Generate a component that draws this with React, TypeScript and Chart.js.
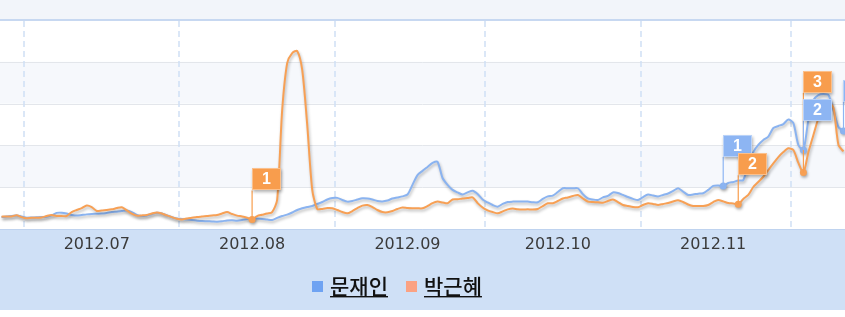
import React, { useEffect, useRef } from 'react';
import { Chart, registerables } from 'chart.js';

Chart.register(...registerables);

// Daily search-interest index, 2012-06-26 .. 2012-12-11
const seriesNames = ['문재인', '박근혜'];
const firstDate = '2012-06-26';
const originDate = '2012-07-01';

const moonValues = [
  5.7, 6.0, 6.2, 6.5, 6.0, 5.4, 5.5, 5.6, 5.7, 5.9,
  6.5, 7.7, 7.8, 7.4, 6.7, 6.4, 6.7, 7.0, 7.2, 7.3,
  7.4, 7.7, 8.1, 8.3, 8.6, 8.9, 8.1, 6.7, 6.2, 6.5,
  7.2, 7.8, 7.4, 6.5, 5.7, 5.0, 4.8, 4.5, 4.3, 4.0,
  3.8, 3.7, 3.6, 3.5, 3.7, 4.1, 4.2, 4.0, 4.3, 4.8,
  5.1, 5.0, 4.8, 4.5, 4.3, 5.3, 6.2, 6.9, 7.9, 9.1,
  9.9, 10.5, 11.0, 12.0, 12.9, 14.1, 14.8, 14.9, 13.9, 13.1,
  13.4, 14.1, 14.7, 14.6, 14.1, 13.4, 13.2, 13.6, 14.6, 15.1,
  15.6, 16.5, 21.1, 25.8, 27.8, 29.7, 31.6, 32.1, 24.4, 21.1,
  18.7, 17.5, 16.5, 17.5, 18.3, 16.7, 14.1, 12.7, 11.5, 10.7,
  12.0, 12.9, 13.1, 13.1, 13.1, 13.1, 12.8, 12.8, 14.4, 15.6,
  16.0, 17.7, 19.5, 19.5, 19.5, 19.5, 16.7, 14.6, 14.1, 13.9,
  15.1, 15.8, 17.5, 17.2, 16.3, 15.3, 14.4, 13.9, 15.3, 16.5,
  16.0, 15.6, 16.3, 17.0, 18.2, 19.5, 17.9, 16.3, 16.5, 16.9,
  17.1, 18.7, 20.6, 20.8, 20.6, 22.0, 22.5, 23.2, 23.4, 30.6,
  36.8, 40.2, 42.6, 44.2, 48.3, 49.3, 50.2, 52.4, 50.7, 40.2,
  37.8, 52.2, 61.7, 64.1, 64.6, 64.1, 56.9, 48.8, 46.9,
];

const parkValues = [
  5.9, 6.0, 6.0, 6.6, 5.7, 5.1, 5.4, 5.4, 5.5, 6.2,
  6.7, 6.2, 6.2, 6.2, 8.1, 9.1, 10.0, 11.2, 10.5, 8.6,
  8.9, 9.1, 9.4, 10.0, 10.4, 8.9, 7.4, 6.4, 6.5, 6.7,
  7.4, 7.9, 7.4, 6.5, 5.7, 4.9, 4.6, 5.0, 5.4, 5.7,
  6.0, 6.2, 6.5, 6.7, 7.4, 8.1, 7.2, 6.4, 6.0, 5.4,
  4.6, 6.2, 6.8, 7.4, 8.1, 13.9, 56.9, 79.4, 84.2, 85.2,
  76.1, 49.8, 18.7, 9.6, 9.6, 10.0, 9.9, 9.1, 8.1, 7.5,
  8.6, 10.0, 11.2, 11.5, 10.5, 9.1, 8.1, 8.0, 8.6, 9.6,
  10.3, 10.0, 9.9, 9.9, 9.9, 11.0, 12.4, 13.1, 12.7, 12.3,
  14.1, 14.2, 14.6, 14.8, 15.1, 12.4, 10.3, 8.9, 8.1, 7.5,
  8.4, 9.4, 9.8, 9.4, 9.3, 9.4, 9.3, 9.6, 11.0, 12.3,
  12.3, 13.4, 14.6, 15.1, 15.8, 16.3, 14.6, 13.1, 12.9, 12.8,
  12.6, 13.4, 14.1, 12.9, 11.5, 11.0, 10.5, 10.4, 11.5, 12.3,
  12.0, 11.5, 12.0, 12.4, 13.2, 13.7, 12.9, 11.7, 11.0, 11.0,
  11.0, 11.5, 12.9, 13.9, 13.2, 12.4, 12.2, 11.8, 14.4, 16.3,
  20.1, 22.5, 25.0, 28.2, 31.4, 34.4, 36.8, 38.6, 37.8, 31.6,
  27.0, 36.8, 45.0, 53.1, 59.8, 60.9, 57.9, 40.2, 37.1,
];

const tickLabels = ['2012.07', '2012.08', '2012.09', '2012.10', '2012.11'];
const tickDates = ['2012-07-15', '2012-08-15', '2012-09-15', '2012-10-15', '2012-11-15'];
const monthStartDates = ['2012-07-01', '2012-08-01', '2012-09-01', '2012-10-01', '2012-11-01', '2012-12-01'];
const viewStartDate = '2012-06-25';
const viewEndDate = '2012-12-11';

const moonFlagDates = ['2012-11-17', '2012-12-03', '2012-12-11'];
const moonFlagLabels = ['1', '2', '3'];
const parkFlagDates = ['2012-08-15', '2012-11-20', '2012-12-03'];
const parkFlagLabels = ['1', '2', '3'];

const gridValues = [0, 20, 40, 60, 80, 100];

const DAY = 86400000;
const dayOf = (s: string) => (Date.parse(s + 'T00:00:00Z') - Date.parse(originDate + 'T00:00:00Z')) / DAY;

const BLUE = '#8ab3f0';
const ORANGE = '#f7a055';
const BLUE_BOX = '#8db5f3';
const ORANGE_BOX = '#f89d4d';
const LEGEND_BLUE = '#6fa3f2';
const LEGEND_ORANGE = '#fba283';

export default function App() {
  const ref = useRef<HTMLCanvasElement | null>(null);

  useEffect(() => {
    document.body.style.margin = '0';
    const canvas = ref.current;
    if (!canvas) return;

    const start = dayOf(firstDate);
    const moonData = moonValues.map((v, i) => ({ x: start + i, y: v }));
    const parkData = parkValues.map((v, i) => ({ x: start + i, y: v }));
    const moonFlagIdx = moonFlagDates.map((d) => dayOf(d) - start);
    const parkFlagIdx = parkFlagDates.map((d) => dayOf(d) - start);

    const bgPlugin = {
      id: 'bg',
      beforeDraw(chart: any) {
        const { ctx, chartArea: a, width, height } = chart;
        const ys = chart.scales.y;
        const xs = chart.scales.x;
        ctx.save();
        ctx.fillStyle = '#ffffff';
        ctx.fillRect(0, 0, width, height);
        ctx.fillStyle = '#f2f5fa';
        ctx.fillRect(0, 0, width, a.top);
        for (let i = 0; i < gridValues.length - 1; i++) {
          if (i % 2 === 1) {
            const y1 = ys.getPixelForValue(gridValues[i + 1]);
            const y0 = ys.getPixelForValue(gridValues[i]);
            ctx.fillStyle = '#f6f8fc';
            ctx.fillRect(0, y1, width, y0 - y1);
          }
        }
        ctx.strokeStyle = '#e3e6eb';
        ctx.lineWidth = 1;
        gridValues.slice(1, -1).forEach((v) => {
          const y = Math.round(ys.getPixelForValue(v)) + 0.5;
          ctx.beginPath();
          ctx.moveTo(0, y);
          ctx.lineTo(width, y);
          ctx.stroke();
        });
        ctx.strokeStyle = '#c7d8f1';
        ctx.lineWidth = 2;
        ctx.beginPath();
        ctx.moveTo(0, a.top);
        ctx.lineTo(width, a.top);
        ctx.stroke();
        ctx.strokeStyle = '#cfdff5';
        ctx.lineWidth = 1.5;
        ctx.setLineDash([6, 4]);
        monthStartDates.forEach((d) => {
          const x = Math.round(xs.getPixelForValue(dayOf(d) - 0.5));
          ctx.beginPath();
          ctx.moveTo(x, a.top + 1);
          ctx.lineTo(x, a.bottom);
          ctx.stroke();
        });
        ctx.setLineDash([]);
        ctx.fillStyle = '#cfe0f6';
        ctx.fillRect(0, a.bottom, width, 81);
        ctx.strokeStyle = '#bfd3ef';
        ctx.lineWidth = 1;
        ctx.beginPath();
        ctx.moveTo(0, a.bottom + 0.5);
        ctx.lineTo(width, a.bottom + 0.5);
        ctx.stroke();
        ctx.restore();
      },
      beforeDatasetDraw(chart: any) {
        const ctx = chart.ctx;
        ctx.save();
        ctx.shadowColor = 'rgba(0,0,0,0.28)';
        ctx.shadowBlur = 3;
        ctx.shadowOffsetX = 1;
        ctx.shadowOffsetY = 2;
      },
      afterDatasetDraw(chart: any) {
        chart.ctx.restore();
      },
      afterDatasetsDraw(chart: any) {
        const ctx = chart.ctx;
        const W = 29;
        const H = 22;
        const placed: any[] = [];
        const make = (dsIndex: number, idxs: number[], labels: string[], color: string, light: string, order: number) => {
          const meta = chart.getDatasetMeta(dsIndex);
          idxs.forEach((ix, k) => {
            const el = meta.data[ix];
            if (!el) return;
            let bottom = el.y - 29;
            placed.forEach((p) => {
              if (p.ix === ix) bottom = Math.min(bottom, p.top - 6);
            });
            placed.push({ ix, x: el.x, py: el.y, top: bottom - H, label: labels[k], color, light, order });
          });
        };
        make(0, moonFlagIdx, moonFlagLabels, BLUE_BOX, '#b9d2f8', 1);
        make(1, parkFlagIdx, parkFlagLabels, ORANGE_BOX, '#fbc08c', 0);
        placed.sort((p, q) => p.ix - q.ix || p.order - q.order);
        placed.forEach((f) => {
          ctx.save();
          ctx.strokeStyle = f.color;
          ctx.lineWidth = 1.2;
          ctx.beginPath();
          ctx.moveTo(f.x, f.top + H);
          ctx.lineTo(f.x, f.py);
          ctx.stroke();
          ctx.shadowColor = 'rgba(0,0,0,0.3)';
          ctx.shadowBlur = 3;
          ctx.shadowOffsetX = 1;
          ctx.shadowOffsetY = 2;
          ctx.fillStyle = f.color;
          const left = Math.round(f.x - 0.5);
          const top = Math.round(f.top);
          ctx.fillRect(left, top, W, H);
          ctx.shadowColor = 'transparent';
          ctx.strokeStyle = f.light;
          ctx.lineWidth = 1;
          ctx.strokeRect(left + 0.5, top + 0.5, W - 1, H - 1);
          ctx.fillStyle = '#ffffff';
          ctx.font = 'bold 16px "Liberation Sans", Arial, sans-serif';
          ctx.textAlign = 'center';
          ctx.textBaseline = 'middle';
          ctx.fillText(f.label, left + W / 2, top + H / 2 + 1);
          ctx.restore();
        });
      },
      afterDraw(chart: any) {
        const ctx = chart.ctx;
        ctx.save();
        ctx.font = '500 21px "Noto Sans CJK KR", sans-serif';
        ctx.textBaseline = 'middle';
        const colors = [LEGEND_BLUE, LEGEND_ORANGE];
        const box = 11;
        const gapBox = 7;
        const gapItem = 18;
        const widths = seriesNames.map((n) => ctx.measureText(n).width);
        const total = widths.reduce((s, w) => s + box + gapBox + w, 0) + gapItem * (seriesNames.length - 1);
        const centerX = 397;
        const cy = 286;
        let x = centerX - total / 2;
        seriesNames.forEach((n, i) => {
          ctx.fillStyle = colors[i];
          ctx.fillRect(Math.round(x), Math.round(cy - box / 2), box, box);
          x += box + gapBox;
          ctx.fillStyle = '#111111';
          ctx.fillText(n, x, cy);
          ctx.fillRect(x, cy + 10, widths[i], 1.4);
          x += widths[i] + gapItem;
        });
        ctx.restore();
      },
    };

    const chart = new Chart(canvas, {
      type: 'line',
      data: {
        datasets: [
          {
            label: seriesNames[0],
            data: moonData,
            borderColor: BLUE,
            backgroundColor: BLUE,
            borderWidth: 2,
            tension: 0.25,
            pointRadius: (c: any) => (moonFlagIdx.includes(c.dataIndex) ? 3.5 : 0),
            pointBorderWidth: 0,
            order: 1,
          },
          {
            label: seriesNames[1],
            data: parkData,
            borderColor: ORANGE,
            backgroundColor: ORANGE,
            borderWidth: 2,
            tension: 0.25,
            pointRadius: (c: any) => (parkFlagIdx.includes(c.dataIndex) ? 3.5 : 0),
            pointBorderWidth: 0,
            order: 0,
          },
        ],
      },
      options: {
        animation: false,
        responsive: false,
        maintainAspectRatio: false,
        layout: { autoPadding: false, padding: { top: 20, left: 0, right: 0, bottom: 0 } },
        plugins: { legend: { display: false }, tooltip: { enabled: false } },
        scales: {
          x: {
            type: 'linear',
            min: dayOf(viewStartDate) + 0.7,
            max: dayOf(viewEndDate) + 0.3,
            grid: { display: false, drawTicks: false },
            border: { display: false },
            afterBuildTicks: (scale: any) => {
              scale.ticks = tickDates.map((d) => ({ value: dayOf(d) }));
            },
            afterFit: (scale: any) => {
              scale.height = 88;
              scale.paddingLeft = 0;
              scale.paddingRight = 0;
            },
            ticks: {
              autoSkip: false,
              maxRotation: 0,
              padding: 6,
              color: '#3a3a3a',
              font: { family: '"DejaVu Sans", sans-serif', size: 16 },
              callback: (_v: any, i: number) => tickLabels[i],
            },
          },
          y: {
            display: false,
            min: 0,
            max: 100,
          },
        },
      },
      plugins: [bgPlugin],
    } as any);

    return () => chart.destroy();
  }, []);

  return (
    <div style={{ width: 845, height: 317 }}>
      <canvas ref={ref} width={845} height={317} style={{ display: 'block' }} />
    </div>
  );
}
